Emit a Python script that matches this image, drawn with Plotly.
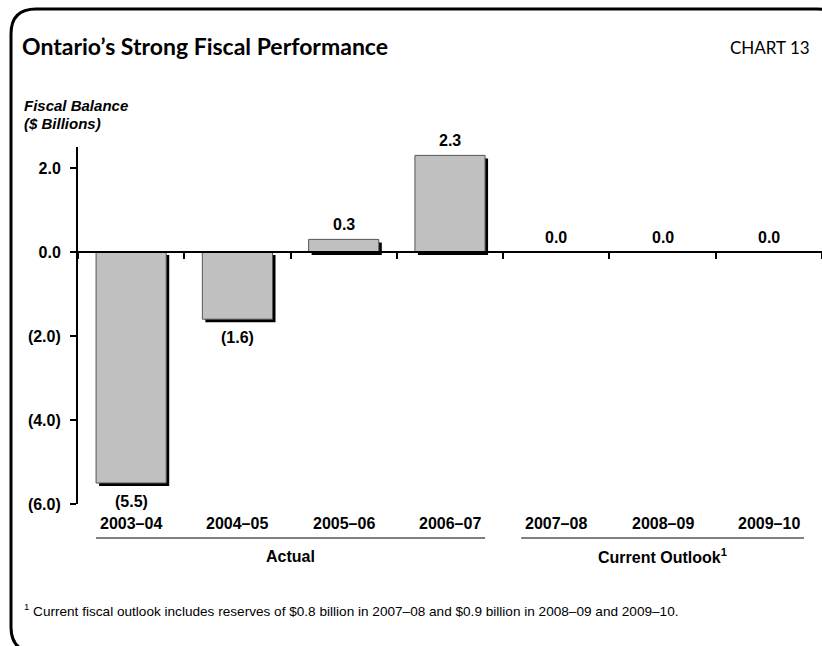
import plotly.graph_objects as go

categories = ["2003–04", "2004–05", "2005–06", "2006–07", "2007–08", "2008–09", "2009–10"]
values = [-5.5, -1.6, 0.3, 2.3, 0.0, 0.0, 0.0]
ytick_vals = [2, 0, -2, -4, -6]
ytick_text = ["2.0", "0.0", "(2.0)", "(4.0)", "(6.0)"]
groups = [("Actual", 0, 3), ("Current Outlook<sup>1</sup>", 4, 6)]

W, H = 822, 646
L, R, T, B = 78, 0, 147, 142
PW, PH = W - L - R, H - T - B


def px(x):
    return (x - L) / PW


def py(y):
    return (H - B - y) / PH


BAR_W = 0.66
SH_X = 3 / (PW / len(categories))
SH_Y = 3 / (PH / 8.5)
FONT = "Liberation Sans, Arial, sans-serif"
TITLE_FONT = "Lato, Roboto, sans-serif"

fig = go.Figure()
# shadow
fig.add_trace(go.Bar(
    x=categories, y=values, base=[-SH_Y] * len(values),
    width=BAR_W, offset=-BAR_W / 2 + SH_X,
    marker=dict(color="black", line=dict(width=0)),
    hoverinfo="skip", showlegend=False,
))
fig.add_trace(go.Bar(
    x=categories, y=values,
    width=BAR_W, offset=-BAR_W / 2,
    marker=dict(color="#c0c0c0", line=dict(color="#555555", width=1)),
    showlegend=False,
))

annotations = []
for c, v in zip(categories, values):
    txt = f"({abs(v):.1f})" if v < 0 else f"{v:.1f}"
    if v < 0:
        annotations.append(dict(x=c, y=v, xref="x", yref="y", text=f"<b>{txt}</b>",
                                showarrow=False, yanchor="top", yshift=-8,
                                font=dict(family=FONT, size=16, color="black")))
    else:
        annotations.append(dict(x=c, y=v, xref="x", yref="y", text=f"<b>{txt}</b>",
                                showarrow=False, yanchor="bottom", yshift=4,
                                font=dict(family=FONT, size=16, color="black")))
    annotations.append(dict(x=c, y=py(523), xref="x", yref="paper", text=f"<b>{c}</b>",
                            showarrow=False, yanchor="middle",
                            font=dict(family=FONT, size=16, color="black")))

shapes = []
for name, i0, i1 in groups:
    shapes.append(dict(type="line", xref="x", yref="paper",
                       x0=i0 - BAR_W / 2, x1=i1 + BAR_W / 2, y0=py(538), y1=py(538),
                       line=dict(color="#7f7f7f", width=2)))
    annotations.append(dict(x=(i0 + i1) / 2, y=py(556), xref="x", yref="paper",
                            text=f"<b>{name}</b>", showarrow=False, yanchor="middle",
                            font=dict(family=FONT, size=16, color="black")))

annotations += [
    dict(x=px(20), y=py(46), xref="paper", yref="paper", xanchor="left", yanchor="middle",
         text="<b>Ontario’s Strong Fiscal Performance</b>", showarrow=False,
         font=dict(family=TITLE_FONT, size=23, color="black")),
    dict(x=px(812), y=py(47), xref="paper", yref="paper", xanchor="right", yanchor="middle",
         text="CHART 13", showarrow=False,
         font=dict(family=TITLE_FONT, size=17, color="black")),
    dict(x=px(22), y=py(105), xref="paper", yref="paper", xanchor="left", yanchor="middle",
         text="<b><i>Fiscal Balance</i></b>", showarrow=False,
         font=dict(family=FONT, size=15, color="black")),
    dict(x=px(22), y=py(123), xref="paper", yref="paper", xanchor="left", yanchor="middle",
         text="<b><i>($ Billions)</i></b>", showarrow=False,
         font=dict(family=FONT, size=15, color="black")),
    dict(x=px(22), y=py(610), xref="paper", yref="paper", xanchor="left", yanchor="middle",
         text="<sup>1</sup> Current fiscal outlook includes reserves of $0.8 billion in 2007–08 and $0.9 billion in 2008–09 and 2009–10.",
         showarrow=False, font=dict(family=FONT, size=13.6, color="black")),
]

# rounded frame
l, t, r, b, rad = px(11), py(9), px(842), py(652), 25
rx, ry = rad / PW, rad / PH
path = (f"M {l},{b + ry} L {l},{t - ry} Q {l},{t} {l + rx},{t} "
        f"L {r - rx},{t} Q {r},{t} {r},{t - ry} L {r},{b + ry} "
        f"Q {r},{b} {r - rx},{b} L {l + rx},{b} Q {l},{b} {l},{b + ry} Z")
shapes.append(dict(type="path", xref="paper", yref="paper", path=path,
                   line=dict(color="black", width=3)))

fig.update_layout(
    width=W, height=H,
    margin=dict(l=L, r=R, t=T, b=B),
    paper_bgcolor="white", plot_bgcolor="white",
    barmode="overlay",
    annotations=annotations, shapes=shapes,
    xaxis=dict(type="category", anchor="free", position=py(252), range=[-0.5, 6.5],
               showline=True, linecolor="black", linewidth=2,
               ticks="outside", tickson="boundaries", ticklen=6, tickwidth=2, tickcolor="black",
               showticklabels=False, showgrid=False, zeroline=False, fixedrange=True),
    yaxis=dict(range=[-6, 2.5], tickvals=ytick_vals, ticktext=ytick_text,
               showline=True, linecolor="black", linewidth=2,
               ticks="outside", ticklen=6, tickwidth=2, tickcolor="black",
               ticklabelstandoff=6,
               tickfont=dict(family=FONT, size=16, color="black", weight="bold"),
               showgrid=False, zeroline=False, fixedrange=True),
)

fig.write_html("out.html")
